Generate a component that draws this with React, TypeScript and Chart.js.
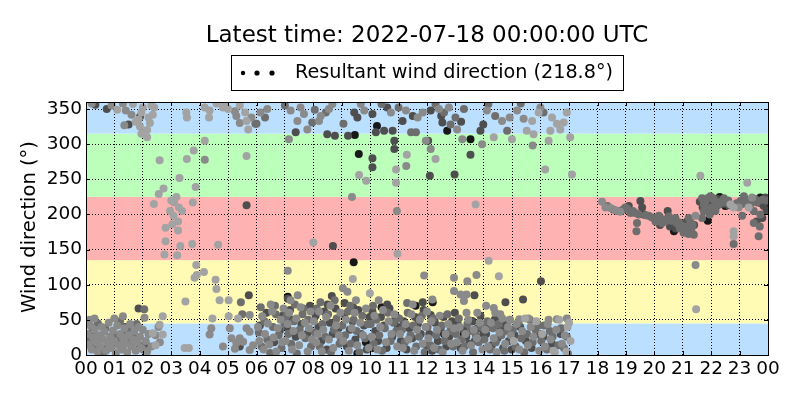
import React, { useEffect, useRef } from "react";
import { Chart, registerables } from "chart.js";

Chart.register(...registerables);

const TITLE = "Latest time: 2022-07-18 00:00:00 UTC";
const LEGEND_LABEL = "Resultant wind direction (218.8°)";
const Y_LABEL = "Wind direction (°)";

const X_TICKS = [0, 1, 2, 3, 4, 5, 6, 7, 8, 9, 10, 11, 12, 13, 14, 15, 16, 17, 18, 19, 20, 21, 22, 23, 24];
const X_TICK_LABELS = ["00", "01", "02", "03", "04", "05", "06", "07", "08", "09", "10", "11", "12", "13", "14", "15", "16", "17", "18", "19", "20", "21", "22", "23", "00"];
const Y_TICKS = [0, 50, 100, 150, 200, 250, 300, 350];

// direction sectors [from, to]
const BAND_LIMITS = [[0, 45], [45, 135], [135, 225], [225, 315], [315, 360]];
const BAND_COLORS = ["rgb(187,223,255)", "rgb(255,251,180)", "rgb(255,178,178)", "rgb(187,255,187)", "rgb(187,223,255)"];

// observations: [hour of day, direction in degrees], grouped by marker shade
const palePts = [
  [2.59, 277], [2.73, 237], [2.56, 229], [2.39, 215], [3.0, 220], [3.18, 225], [3.29, 252], [3.1, 217], [2.96, 205], [3.38, 205],
  [3.27, 210], [3.08, 198], [3.24, 190], [3.04, 186], [2.8, 181], [3.24, 177], [2.8, 162], [3.32, 155], [2.76, 143], [3.21, 142],
  [3.74, 158], [4.65, 157], [3.76, 217], [3.86, 239], [3.55, 279], [3.79, 291], [4.18, 305], [5.65, 283], [3.88, 128], [4.15, 118],
  [3.82, 110], [3.9, 114], [4.56, 107], [4.59, 94], [4.7, 78], [5.02, 78], [3.5, 76], [4.45, 52], [5.02, 55], [5.35, 52],
  [2.7, 55], [3.62, 10], [3.47, 10], [2.45, 14], [2.7, 29], [2.59, 43], [2.35, 31],
  [1.1, 349], [1.65, 357], [1.95, 345], [1.85, 335], [2.2, 338], [2.25, 330], [1.9, 325], [2.15, 320], [1.75, 332], [1.95, 315],
  [2.35, 342], [2.4, 352], [2.0, 352], [2.3, 355], [3.53, 345], [3.55, 338], [4.18, 352], [4.35, 348], [4.33, 338], [4.88, 357],
  [5.0, 350], [5.41, 355], [5.65, 333], [5.71, 321], [5.6, 345], [4.82, 352], [4.59, 358], [2.15, 310],
  [9.61, 256], [9.86, 248], [10.91, 264], [10.91, 245], [11.29, 285], [10.96, 144], [8.0, 160], [9.39, 108], [9.99, 88], [12.3, 279],
  [13.71, 214], [14.17, 134], [14.53, 112], [14.35, 310], [14.99, 307], [15.75, 314], [16.4, 338], [16.57, 329], [16.16, 264], [17.1, 257],
  [21.62, 255], [21.47, 65], [22.68, 214], [22.79, 210], [22.79, 176], [22.79, 169], [23.27, 245], [23.32, 210], [15.7, 333], [16.28, 305],
  [16.69, 321], [16.81, 331], [16.92, 345], [17.04, 310], [15.51, 319], [15.93, 345], [16.34, 319],
  [15.05, 20], [15.45, 52], [15.85, 48], [16.05, 30], [16.45, 6], [16.65, 50], [16.95, 40], [17.05, 20], [17.0, 46], [16.5, 4], [16.9, 5]
];

const lightPts = [
  [0.05, 30], [0.1, 15], [0.15, 42], [0.2, 8], [0.25, 25], [0.3, 36], [0.35, 18], [0.4, 5], [0.45, 28], [0.5, 12],
  [0.55, 40], [0.6, 22], [0.65, 33], [0.7, 6], [0.75, 17], [0.8, 46], [0.85, 26], [0.9, 10], [0.95, 35], [1.0, 20],
  [1.05, 3], [1.1, 42], [1.15, 14], [1.2, 30], [1.25, 8], [1.3, 24], [1.35, 38], [1.4, 16], [1.45, 4], [1.5, 28],
  [1.55, 44], [1.6, 12], [1.65, 22], [1.7, 34], [1.75, 6], [1.8, 18], [1.85, 40], [1.9, 26], [1.95, 10], [2.0, 36],
  [2.1, 20], [2.15, 5], [2.2, 30], [2.3, 12], [0.12, 50], [0.3, 52], [1.0, 52], [1.3, 55], [2.55, 40], [2.6, 18], [2.45, 28],
  [4.41, 38], [4.35, 29], [5.06, 38], [5.12, 24], [4.82, 12], [5.29, 17], [5.24, 9], [5.53, 19], [5.41, 24], [5.76, 33],
  [5.88, 14], [5.76, 7], [5.65, 38],
  [0.2, 358], [0.9, 355], [1.3, 358], [1.4, 348], [1.6, 342], [1.35, 327], [5.29, 340], [5.41, 330], [5.82, 338], [5.24, 347],
  [4.18, 278], [2.06, 53], [5.76, 57],
  [6.05, 40], [6.1, 20], [6.2, 55], [6.25, 8], [6.3, 30], [6.4, 45], [6.45, 15], [6.55, 62], [6.6, 25], [6.7, 5],
  [6.75, 38], [6.85, 50], [6.9, 18], [6.95, 66], [6.5, 72],
  [7.02, 20], [7.1, 44], [7.15, 60], [7.25, 8], [7.3, 34], [7.4, 52], [7.5, 14], [7.55, 68], [7.6, 28], [7.7, 46],
  [7.8, 5], [7.85, 38], [7.9, 62], [7.95, 22], [7.45, 85], [7.2, 78],
  [8.02, 48], [8.1, 18], [8.2, 62], [8.3, 5], [8.35, 36], [8.45, 54], [8.55, 22], [8.6, 70], [8.7, 10], [8.8, 42],
  [8.9, 28], [8.95, 60], [8.15, 30],
  [9.05, 20], [9.15, 50], [9.25, 6], [9.35, 38], [9.45, 60], [9.55, 14], [9.65, 46], [9.75, 28], [9.85, 66], [9.95, 10],
  [9.5, 78], [9.2, 90],
  [10.05, 26], [10.15, 56], [10.25, 8], [10.35, 40], [10.45, 64], [10.55, 18], [10.65, 48], [10.75, 30], [10.85, 58], [10.95, 12], [10.3, 78],
  [11.05, 30], [11.15, 10], [11.25, 44], [11.35, 22], [11.45, 58], [11.55, 6], [11.65, 36], [11.75, 50], [11.85, 16], [11.95, 40], [11.5, 72],
  [12.05, 24], [12.15, 48], [12.25, 10], [12.35, 36], [12.45, 56], [12.55, 4], [12.65, 30], [12.75, 44], [12.85, 16], [12.95, 38],
  [13.05, 18], [13.15, 40], [13.25, 6], [13.35, 30], [13.45, 50], [13.55, 14], [13.65, 36], [13.75, 24], [13.85, 46], [13.95, 8],
  [14.05, 36], [14.15, 12], [14.25, 46], [14.35, 24], [14.45, 4], [14.55, 32], [14.65, 52], [14.75, 16], [14.85, 40], [14.95, 28], [14.4, 60],
  [15.15, 44], [15.25, 8], [15.35, 34], [15.55, 14], [15.65, 40], [15.75, 26], [15.95, 6],
  [16.15, 12], [16.25, 44], [16.35, 22], [16.55, 36], [16.75, 16], [16.85, 28],
  [6.14, 345], [6.38, 350], [7.2, 348], [7.55, 352], [7.67, 343], [7.44, 333], [7.14, 307], [8.2, 333], [8.26, 340], [8.55, 350],
  [8.67, 357], [7.79, 321], [9.67, 357], [9.79, 348], [10.73, 345], [11.26, 348], [11.67, 338], [11.85, 345], [11.96, 305], [11.27, 269],
  [12.42, 350], [12.77, 352], [13.06, 321], [13.24, 307], [13.94, 300], [14.11, 348], [14.64, 333], [14.91, 338], [15.17, 348], [15.4, 336],
  [15.72, 298], [15.99, 352], [12.13, 293], [13.42, 105], [13.74, 114], [12.95, 110], [12.95, 91], [13.18, 86], [13.39, 86], [13.3, 77],
  [12.19, 79], [14.08, 70], [14.35, 67], [13.39, 60], [13.77, 60], [14.58, 58], [14.91, 50], [15.25, 51], [15.57, 52], [16.28, 50],
  [16.57, 51], [16.92, 52], [12.0, 62], [9.04, 95], [11.9, 113], [7.1, 120], [9.36, 225], [10.94, 205],
  [18.16, 218], [18.28, 210], [18.46, 209], [18.63, 206], [18.8, 204], [21.45, 128], [23.44, 224], [22.97, 210], [21.45, 198]
];

const midPts = [
  [0.08, 20], [0.22, 33], [0.38, 10], [0.52, 24], [0.68, 38], [0.82, 14], [0.98, 28], [1.12, 22], [1.28, 12], [1.42, 32],
  [1.58, 20], [1.72, 26], [1.88, 14], [2.02, 8], [2.05, 65], [0.42, 45], [1.2, 48], [1.78, 44], [0.6, 3], [1.5, 38],
  [5.45, 75], [5.5, 58], [5.96, 329], [6.0, 329],
  [6.08, 32], [6.18, 12], [6.28, 48], [6.38, 22], [6.48, 3], [6.58, 40], [6.68, 58], [6.78, 28], [6.88, 10], [6.98, 45], [6.15, 68], [6.65, 70],
  [7.05, 55], [7.12, 30], [7.22, 16], [7.32, 48], [7.42, 2], [7.52, 36], [7.62, 58], [7.72, 24], [7.82, 50], [7.92, 12], [7.35, 72], [7.65, 66],
  [8.05, 32], [8.12, 66], [8.22, 12], [8.32, 44], [8.42, 26], [8.52, 58], [8.62, 4], [8.72, 36], [8.82, 52], [8.92, 16], [8.25, 75], [8.75, 78],
  [9.02, 42], [9.12, 28], [9.22, 62], [9.32, 16], [9.42, 50], [9.52, 34], [9.62, 4], [9.72, 56], [9.82, 24], [9.92, 44], [9.3, 70],
  [10.02, 44], [10.12, 16], [10.22, 50], [10.32, 28], [10.42, 6], [10.52, 38], [10.62, 60], [10.72, 20], [10.82, 46], [10.92, 34], [10.1, 70],
  [11.02, 52], [11.12, 36], [11.22, 18], [11.32, 60], [11.42, 28], [11.52, 42], [11.62, 12], [11.72, 26], [11.82, 56], [11.92, 4], [11.3, 74],
  [12.02, 40], [12.12, 14], [12.22, 52], [12.32, 28], [12.42, 8], [12.52, 42], [12.62, 20], [12.72, 58], [12.82, 34], [12.92, 12],
  [13.02, 30], [13.12, 52], [13.22, 22], [13.32, 12], [13.42, 44], [13.52, 34], [13.62, 4], [13.72, 28], [13.82, 18], [13.92, 40],
  [14.02, 22], [14.12, 48], [14.22, 8], [14.32, 38], [14.42, 18], [14.52, 44], [14.62, 28], [14.72, 6], [14.82, 34], [14.92, 50],
  [15.02, 36], [15.12, 12], [15.22, 46], [15.32, 24], [15.42, 4], [15.52, 30], [15.62, 50], [15.72, 18], [15.82, 36], [15.92, 42],
  [16.02, 20], [16.12, 42], [16.22, 8], [16.32, 34], [16.42, 26], [16.62, 14], [16.72, 38], [16.82, 10], [16.92, 26], [16.96, 2],
  [7.96, 331], [8.44, 345], [9.06, 329], [11.44, 317], [11.61, 317], [12.6, 345], [12.83, 328], [13.0, 338], [14.82, 319], [14.16, 357],
  [6.3, 338], [7.0, 355], [8.05, 349], [10.4, 357], [11.0, 352], [12.3, 357], [13.3, 350], [14.4, 340], [15.3, 358], [16.1, 345],
  [18.98, 210], [19.16, 202], [19.33, 202], [19.39, 188], [19.37, 176], [19.8, 198], [20.04, 190], [20.16, 198], [20.27, 188], [20.39, 190],
  [20.51, 197], [20.74, 195], [20.86, 189], [20.97, 184], [21.03, 174], [21.13, 183], [21.21, 195], [21.27, 189], [21.39, 171], [21.68, 223],
  [21.74, 214], [21.86, 223], [21.97, 226], [21.74, 205], [22.03, 210], [22.27, 214], [22.5, 217], [22.03, 224], [21.68, 195], [23.03, 219],
  [23.15, 226], [23.26, 219], [23.61, 217], [23.09, 198], [23.5, 188], [23.71, 183], [23.67, 169], [22.79, 158], [23.5, 205], [23.73, 200],
  [18.35, 212], [18.55, 207], [18.7, 205], [18.9, 207], [19.05, 208], [19.25, 205], [19.45, 200], [19.7, 199], [19.9, 196], [20.1, 194],
  [20.3, 193], [20.45, 192], [20.6, 191], [20.8, 187], [20.9, 180], [21.1, 178], [21.3, 177], [21.35, 185], [21.2, 172],
  [21.8, 218], [21.9, 208], [22.1, 221], [22.2, 212], [22.35, 218], [22.45, 223], [22.6, 220], [22.9, 216], [23.1, 215], [23.2, 222],
  [23.38, 215], [23.55, 222], [23.8, 221], [23.95, 220], [22.15, 205], [21.95, 200]
];

const darkPts = [
  [0.18, 12], [0.9, 24], [1.38, 40], [1.65, 30], [2.1, 16], [0.72, 8],
  [1.9, 339], [1.5, 328], [0.33, 356], [0.73, 350], [5.73, 85], [5.65, 213], [5.41, 12], [1.85, 66],
  [6.12, 42], [6.35, 60], [6.62, 18], [6.82, 35], [6.92, 56],
  [7.08, 40], [7.18, 64], [7.38, 26], [7.58, 44], [7.78, 30], [7.88, 70], [7.1, 80], [7.25, 50],
  [8.08, 56], [8.18, 40], [8.28, 20], [8.38, 62], [8.48, 8], [8.58, 46], [8.68, 30], [8.78, 66], [8.88, 38], [8.98, 24], [8.5, 72], [8.65, 84],
  [9.08, 58], [9.18, 12], [9.28, 36], [9.38, 48], [9.48, 22], [9.58, 64], [9.68, 30], [9.78, 42], [9.88, 8], [9.98, 54], [9.4, 68], [9.1, 74],
  [10.08, 62], [10.18, 34], [10.28, 20], [10.38, 54], [10.48, 42], [10.58, 10], [10.68, 66], [10.78, 26], [10.88, 50], [10.98, 40], [10.6, 72],
  [11.08, 20], [11.18, 48], [11.28, 8], [11.38, 38], [11.48, 24], [11.58, 54], [11.68, 44], [11.78, 30], [11.88, 64], [11.98, 14], [11.85, 75],
  [12.08, 30], [12.18, 6], [12.28, 46], [12.38, 20], [12.48, 38], [12.58, 54], [12.68, 12], [12.78, 26], [12.88, 48], [12.98, 60],
  [13.08, 44], [13.18, 10], [13.28, 36], [13.38, 26], [13.48, 16], [13.58, 48], [13.68, 20], [13.78, 38], [13.88, 56], [13.98, 30],
  [14.08, 30], [14.18, 40], [14.28, 14], [14.38, 50], [14.48, 24], [14.58, 36], [14.68, 10], [14.78, 44], [14.88, 20], [14.98, 8],
  [15.08, 28], [15.28, 40], [15.48, 20], [15.68, 10], [15.88, 30], [16.1, 26], [16.4, 16], [16.7, 30],
  [7.38, 317], [8.49, 314], [8.76, 312], [9.22, 312], [9.44, 345], [9.55, 338], [10.08, 343], [10.2, 317], [10.49, 319], [10.79, 319],
  [10.85, 305], [10.85, 293], [11.14, 333], [10.08, 280], [10.08, 267], [8.69, 155], [12.13, 348], [12.54, 331], [13.53, 285], [13.88, 319],
  [13.98, 328], [12.1, 255], [12.97, 257], [12.04, 305], [13.67, 85], [14.76, 75], [15.38, 79], [16.01, 105], [12.13, 57],
  [12.5, 340], [13.2, 332], [10.6, 352], [11.5, 340],
  [19.1, 212], [19.51, 219], [19.57, 210], [19.63, 200], [19.98, 195], [20.47, 205], [21.92, 214], [23.91, 224],
  [20.2, 185], [20.55, 183], [20.75, 180], [21.0, 186], [21.15, 190], [21.25, 180], [21.4, 185], [21.6, 218], [21.7, 210], [22.0, 218],
  [22.2, 222], [22.4, 215], [22.6, 213], [23.85, 212], [23.95, 205], [23.75, 216], [23.8, 195], [23.6, 190]
];

const blackPts = [
  [7.1, 83], [9.46, 313], [10.24, 326], [9.6, 286], [9.42, 132], [12.71, 319], [13.53, 307], [9.55, 2], [9.85, 18], [10.4, 68],
  [10.1, 10], [10.9, 55], [11.4, 40], [11.6, 70], [12.6, 30], [13.6, 48], [14.45, 50], [20.69, 176], [22.15, 219], [22.39, 221],
  [21.88, 191], [23.73, 224], [23.85, 219], [22.3, 225], [23.95, 215], [22.5, 212], [13.3, 30], [12.2, 75]
];

const GROUPS = [
  { pts: palePts, color: "#a3a3a3" },
  { pts: lightPts, color: "#8a8a8a" },
  { pts: midPts, color: "#6e6e6e" },
  { pts: darkPts, color: "#4e4e4e" },
  { pts: blackPts, color: "#181818" }
];

const FONT = '"DejaVu Sans", sans-serif';

const decorPlugin = {
  id: "decor",
  beforeDraw(chart: any) {
    const { ctx, chartArea, scales } = chart;
    const { left, right } = chartArea;
    const y = scales.y;
    ctx.save();
    BAND_LIMITS.forEach(([lo, hi], i) => {
      const yTop = y.getPixelForValue(hi);
      const yBot = y.getPixelForValue(lo);
      ctx.fillStyle = BAND_COLORS[i];
      ctx.fillRect(left, yTop, right - left, yBot - yTop);
    });
    ctx.restore();
  },
  afterDatasetsDraw(chart: any) {
    const { ctx, chartArea, scales } = chart;
    const { left, right, top, bottom } = chartArea;
    ctx.save();
    ctx.strokeStyle = "#000";
    ctx.lineWidth = 1;
    const tl = 4;
    ctx.beginPath();
    X_TICKS.forEach((v) => {
      const px = Math.round(scales.x.getPixelForValue(v)) + 0.5;
      ctx.moveTo(px, bottom);
      ctx.lineTo(px, bottom - tl);
      ctx.moveTo(px, top);
      ctx.lineTo(px, top + tl);
    });
    Y_TICKS.forEach((v) => {
      const py = Math.round(scales.y.getPixelForValue(v)) + 0.5;
      ctx.moveTo(left, py);
      ctx.lineTo(left + tl, py);
      ctx.moveTo(right, py);
      ctx.lineTo(right - tl, py);
    });
    ctx.stroke();
    ctx.strokeRect(Math.round(left) + 0.5, Math.round(top) + 0.5, Math.round(right - left), Math.round(bottom - top));
    ctx.restore();
  },
  afterDraw(chart: any) {
    const { ctx, chartArea } = chart;
    const cx = (chartArea.left + chartArea.right) / 2;
    ctx.save();
    ctx.fillStyle = "#000";
    // title
    ctx.font = `23px ${FONT}`;
    ctx.textAlign = "center";
    ctx.textBaseline = "alphabetic";
    ctx.fillText(TITLE, cx, 42);
    // legend box
    ctx.strokeStyle = "#000";
    ctx.lineWidth = 1;
    ctx.strokeRect(231.5, 55.5, 392, 35);
    [[243, 2.2], [257, 2.6], [272, 2.6]].forEach(([x, r]) => {
      ctx.beginPath();
      ctx.arc(x, 73, r, 0, Math.PI * 2);
      ctx.fill();
    });
    ctx.font = `19.2px ${FONT}`;
    ctx.textAlign = "left";
    ctx.fillText(LEGEND_LABEL, 295, 78);
    // y axis title
    ctx.font = `19.5px ${FONT}`;
    ctx.translate(30, 227);
    ctx.rotate(-Math.PI / 2);
    ctx.textAlign = "center";
    ctx.textBaseline = "middle";
    ctx.fillText(Y_LABEL, 0, 0);
    ctx.restore();
  }
};

export default function App() {
  const canvasRef = useRef<HTMLCanvasElement | null>(null);

  useEffect(() => {
    const canvas = canvasRef.current;
    if (!canvas) return;
    const chart = new Chart(canvas, {
      type: "scatter",
      data: {
        datasets: GROUPS.map((g) => ({
          data: g.pts.map(([h, d]) => ({ x: h, y: d })),
          backgroundColor: g.color,
          borderWidth: 0,
          pointRadius: 4,
          pointHoverRadius: 4
        }))
      },
      options: {
        responsive: false,
        animation: false,
        events: [],
        layout: { padding: { left: 0, right: 32, top: 102, bottom: 5 } },
        plugins: {
          legend: { display: false },
          title: { display: false },
          tooltip: { enabled: false }
        },
        scales: {
          x: {
            type: "linear",
            min: 0,
            max: 24,
            afterBuildTicks: (scale: any) => {
              scale.ticks = X_TICKS.map((v) => ({ value: v }));
            },
            afterFit: (scale: any) => {
              scale.height = 40;
            },
            ticks: {
              autoSkip: false,
              maxRotation: 0,
              padding: 3,
              color: "#000",
              font: { family: FONT, size: 18.5 },
              callback: (_v: any, i: number) => X_TICK_LABELS[i]
            },
            grid: { color: "#000", lineWidth: 1, drawTicks: false },
            border: { display: false, dash: [1, 2] }
          },
          y: {
            type: "linear",
            min: 0,
            max: 360,
            afterBuildTicks: (scale: any) => {
              scale.ticks = Y_TICKS.map((v) => ({ value: v }));
            },
            afterFit: (scale: any) => {
              scale.width = 86;
            },
            ticks: {
              padding: 4,
              color: "#000",
              font: { family: FONT, size: 18.5 },
              callback: (v: any) => String(v)
            },
            grid: { color: "#000", lineWidth: 1, drawTicks: false },
            border: { display: false, dash: [1, 2] }
          }
        }
      },
      plugins: [decorPlugin]
    });
    return () => chart.destroy();
  }, []);

  return (
    <div style={{ position: "fixed", left: 0, top: 0, width: 800, height: 400, background: "#fff" }}>
      <canvas ref={canvasRef} width={800} height={400} style={{ width: 800, height: 400, display: "block" }} />
    </div>
  );
}
